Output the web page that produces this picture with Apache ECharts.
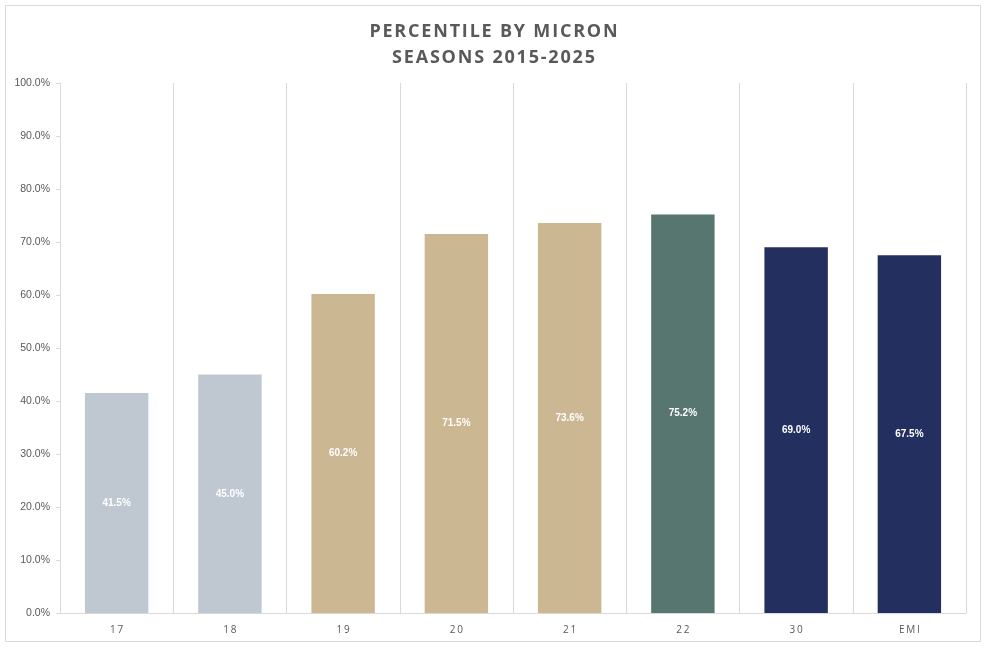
<!DOCTYPE html>
<html>
<head>
<meta charset="utf-8">
<script src="https://cdn.jsdelivr.net/npm/echarts@6/dist/echarts.min.js"></script>
<style>
html,body{margin:0;padding:0;background:#fff;}
#chart{width:987px;height:648px;}
</style>
</head>
<body>
<div id="chart"></div>
<script>
var titleLines = ['PERCENTILE BY MICRON', 'SEASONS 2015-2025'];
var categories = ['17', '18', '19', '20', '21', '22', '30', 'EMI'];
var values = [41.5, 45.0, 60.2, 71.5, 73.6, 75.2, 69.0, 67.5];
var barColors = ['#BFC7D0', '#BFC7D0', '#CCB793', '#CCB793', '#CCB793', '#56766F', '#232F5E', '#232F5E'];
var yTicks = [0, 10, 20, 30, 40, 50, 60, 70, 80, 90, 100];

// visual letter spacing (hair spaces) for display only
function spaced(s, sep) { return s.split('').join(sep); }

var chart = echarts.init(document.getElementById('chart'), null, {renderer: 'canvas'});
chart.setOption({
  animation: false,
  backgroundColor: '#fff',
  title: {
    text: titleLines.map(function (l) { return spaced(l, '\u200A'); }).join('\n'),
    left: 'center',
    top: 14,
    textStyle: {
      fontFamily: 'Open Sans',
      fontWeight: 'bold',
      fontSize: 18,
      color: '#595959',
      lineHeight: 26
    }
  },
  graphic: [{
    type: 'rect',
    shape: {x: 5.5, y: 5.5, width: 975, height: 636},
    style: {fill: 'none', stroke: '#D9D9D9', lineWidth: 1},
    silent: true,
    z: -1
  }],
  grid: {left: 60, right: 21, top: 83, bottom: 35, containLabel: false},
  xAxis: {
    type: 'category',
    data: categories,
    boundaryGap: true,
    axisLine: {show: true, lineStyle: {color: '#D9D9D9', width: 1}},
    axisTick: {show: false},
    splitLine: {show: true, lineStyle: {color: '#D9D9D9', width: 1}},
    axisLabel: {
      color: '#595959',
      fontFamily: 'Open Sans',
      fontSize: 10,
      margin: 12,
      formatter: function (v) { return spaced(v, '\u2009'); }
    }
  },
  yAxis: {
    type: 'value',
    min: 0,
    max: 100,
    interval: 10,
    axisLine: {show: true, lineStyle: {color: '#D9D9D9', width: 1}},
    axisTick: {show: true, length: 4, lineStyle: {color: '#D9D9D9'}},
    splitLine: {show: false},
    axisLabel: {
      color: '#595959',
      fontFamily: 'Liberation Sans',
      fontSize: 10.5,
      margin: 10,
      formatter: function (v) { return yTicks.indexOf(v) >= 0 ? v.toFixed(1) + '%' : ''; }
    }
  },
  series: [{
    type: 'bar',
    data: values.map(function (v, i) { return {value: v, itemStyle: {color: barColors[i]}}; }),
    barWidth: '56%',
    label: {
      show: true,
      position: 'inside',
      color: '#FFFFFF',
      fontFamily: 'Liberation Sans',
      fontWeight: 'bold',
      fontSize: 10,
      formatter: function (p) { return p.value.toFixed(1) + '%'; }
    }
  }]
});
</script>
</body>
</html>
